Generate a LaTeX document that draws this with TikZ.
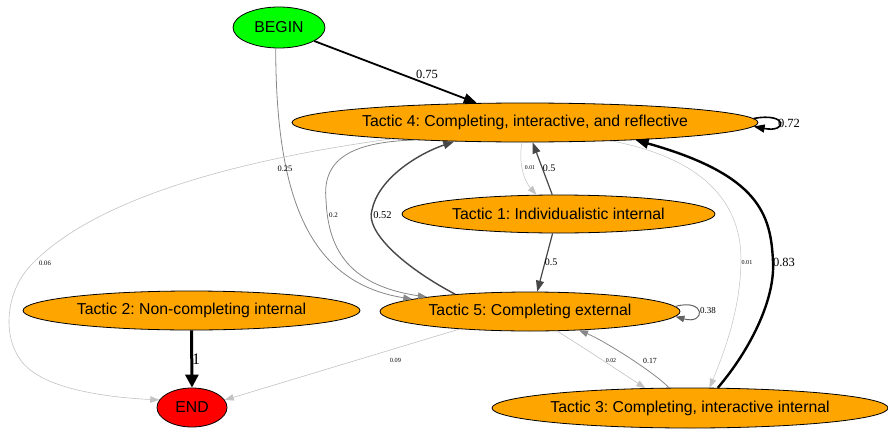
\documentclass[tikz,border=0pt]{standalone}
\usepackage{fontspec}
\setmainfont{Liberation Serif}
\newfontfamily\nodefont{Liberation Sans}
\usetikzlibrary{shapes.geometric,arrows.meta}
\definecolor{orangeC}{HTML}{FFA500}
\definecolor{beginG}{HTML}{00FF00}
\definecolor{endR}{HTML}{FF0000}
\definecolor{eLight}{gray}{0.76}
\definecolor{eMid}{gray}{0.53}
\definecolor{eDark}{gray}{0.28}
\frenchspacing
\begin{document}
\begin{tikzpicture}[x=1pt,y=-1pt,
  st/.style={ellipse,draw=black,line width=0.8pt,inner sep=0pt,font=\nodefont\fontsize{15.8}{18}\selectfont},
  tac/.style={st,fill=orangeC},
  lab/.style={inner sep=0pt,font=\fontsize{#1}{#1}\selectfont},
  tipS/.style={-{Triangle[length=9pt,width=6.5pt]}},
  tipM/.style={-{Triangle[length=11pt,width=8pt]}},
  tipL/.style={-{Triangle[length=13pt,width=10pt]}},
  tipXL/.style={-{Triangle[length=13pt,width=13pt]}},
  light/.style={draw=eLight,line width=0.6pt,tipS},
  mid/.style={draw=eMid,line width=0.8pt,tipS},
  dark/.style={draw=eDark,line width=1.3pt,tipM},
  heavy/.style={draw=black,line width=#1,tipL}
]
\path[use as bounding box] (0,0) rectangle (888,431);

% nodes
\node[st,fill=beginG,minimum width=92pt,minimum height=41pt] (start) at (279,27.5) {BEGIN};
\node[tac,minimum width=466pt,minimum height=39pt] (t4) at (525,122.5) {Tactic 4: Completing, interactive, and reflective};
\node[tac,minimum width=313pt,minimum height=38pt] (t1) at (558.5,214) {Tactic 1: Individualistic internal};
\node[tac,minimum width=300pt,minimum height=39pt] (t5) at (530,311.5) {Tactic 5: Completing external};
\node[tac,minimum width=337pt,minimum height=39pt] (t2) at (191.5,310.5) {Tactic 2: Non-completing internal};
\node[st,fill=endR,minimum width=70pt,minimum height=39pt] (fin) at (192,407.5) {END};
\node[tac,minimum width=396pt,minimum height=40pt] (t3) at (690,408) {Tactic 3: Completing, interactive internal};

% BEGIN -> T4
\draw[heavy=1.8pt] (start.-21.7) -- (t4.158);
\node[lab=12.5] (l075) at (427,74) {0.75};

% BEGIN -> T5
\draw[mid] (start.261.7) .. controls (276,190) and (305,282) .. (t5.174);
\node[lab=8.4] (l025) at (285,169) {0.25};

% T4 -> END
\draw[light] (t4.187.5) .. controls (250,158) and (100,195) .. (33,263)
  .. controls (2,293) and (0,350) .. (33,372)
  .. controls (55,388) and (100,397) .. (fin.167.6);
\node[lab=6.7] (l006) at (45,263) {0.06};

% T4 -> T5
\draw[mid] (t4.189) .. controls (350,142) and (322,160) .. (326,200)
  .. controls (328,245) and (345,285) .. (t5.172);
\node[lab=7] (l02) at (333.5,215) {0.2};

% T5 -> T4
\draw[dark,line width=1.4pt] (t5.167.8) .. controls (400,265) and (365,230) .. (372,210)
  .. controls (378,180) and (415,155) .. (t4.195);
\node[lab=10.5] (l052) at (382.5,215) {0.52};

% T4 -> T1
\draw[light,line width=0.5pt] (t4.261) .. controls (518,165) and (525,182) .. (t1.139.8);
\node[lab=5.8] (l001a) at (530,168) {0.01};

% T1 -> T4
\draw[dark,line width=1.2pt] (t1.108.9) -- (t4.291.3);
\node[lab=10] (l05a) at (549,168) {0.5};

% T1 -> T5
\draw[dark,line width=1.2pt] (t1.253.9) -- (t5.70.3);
\node[lab=10] (l05b) at (551,262.5) {0.5};

% T5 loop
\draw[draw=eDark!85,line width=1pt,tipS] (t5.2.9) .. controls (706,298) and (706,325) .. (t5.-2.5);
\node[lab=9] (l038) at (708,311) {0.38};

% T4 loop
\draw[heavy=1.6pt,tipM] (t4.1.5) .. controls (788,112) and (788,133) .. (t4.-1.7);
\node[lab=12.5] (l072) at (789,123) {0.72};

% T4 -> T3
\draw[light,line width=0.5pt] (t4.-12.1) .. controls (700,158) and (742,200) .. (741,262)
  .. controls (740,310) and (725,350) .. (t3.46.3);
\node[lab=6.1] (l001b) at (747,262.5) {0.01};

% T3 -> T4
\draw[heavy=2.4pt] (t3.36.3) .. controls (750,350) and (775,300) .. (773,262)
  .. controls (771,215) and (760,175) .. (t4.-9.1);
\node[lab=12.5] (l083) at (784,262.5) {0.83};

% T5 -> END
\draw[light] (t5.194.6) -- (fin.13);
\node[lab=6.3] (l009) at (395.5,360) {0.09};

% T5 -> T3
\draw[light] (t5.-36.4) .. controls (580,345) and (625,375) .. (t3.156.6);
\node[lab=5.9] (l002) at (611,361) {0.02};

% T3 -> T5
\draw[mid] (t3.136.5) .. controls (655,373) and (605,341) .. (t5.-21.1);
\node[lab=7.8] (l017) at (650,361) {0.17};

% T2 -> END
\draw[draw=black,line width=3pt,tipXL] (t2.south) -- (fin.north);
\node[lab=16] (l1) at (196,359) {1};
\end{tikzpicture}
\end{document}
